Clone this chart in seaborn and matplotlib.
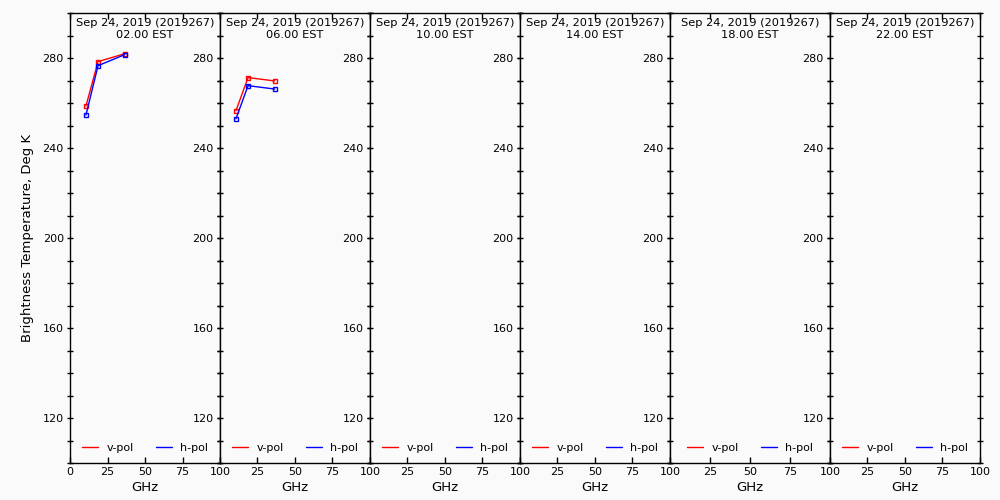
import pandas as pd
import matplotlib.pyplot as plt
from matplotlib.lines import Line2D
from matplotlib.ticker import MultipleLocator
import seaborn as sns

# Brightness temperatures per observation time (empty panels have no data)
times = ["02.00 EST", "06.00 EST", "10.00 EST", "14.00 EST", "18.00 EST", "22.00 EST"]
freqs = [10.65, 18.7, 36.5]
vpol = {
    "02.00 EST": [258.7, 278.4, 281.9],
    "06.00 EST": [256.6, 271.3, 269.8],
}
hpol = {
    "02.00 EST": [254.7, 276.6, 281.5],
    "06.00 EST": [253.0, 267.7, 266.2],
}
date_label = "Sep 24, 2019 (2019267)"
x_ticks = [0, 25, 50, 75, 100]
y_ticks = [120, 160, 200, 240, 280]

rows = []
for t in times:
    for pol, src in (("v-pol", vpol), ("h-pol", hpol)):
        if t in src:
            for f, v in zip(freqs, src[t]):
                rows.append({"time": t, "GHz": f, "pol": pol, "Tb": v})
df = pd.DataFrame(rows)

sns.set_style("ticks")
plt.rcParams["font.family"] = ["DejaVu Sans"]
plt.rcParams["text.color"] = "black"
plt.rcParams["axes.labelcolor"] = "black"
plt.rcParams["xtick.color"] = "black"
plt.rcParams["ytick.color"] = "black"
bg = "#fafafa"
colors = {"v-pol": "red", "h-pol": "blue"}

fig, axes = plt.subplots(1, 6, figsize=(10, 5), dpi=100, sharey=True,
                         gridspec_kw={"width_ratios": [150, 150, 150, 150, 160, 150]})
fig.patch.set_facecolor(bg)
fig.subplots_adjust(left=0.07, right=0.98, bottom=0.074, top=0.974, wspace=0)

for i, (ax, t) in enumerate(zip(axes, times)):
    ax.set_facecolor(bg)
    sub = df[df["time"] == t]
    for pol in ["v-pol", "h-pol"]:
        d = sub[sub["pol"] == pol]
        if len(d):
            sns.lineplot(data=d, x="GHz", y="Tb", ax=ax, color=colors[pol],
                         marker="s", markersize=3.5, mfc="none", mec=colors[pol],
                         mew=1, lw=1, sort=False)
    ax.set_xlim(0, 100)
    ax.set_ylim(100, 300)
    ax.set_xticks(x_ticks)
    ax.set_xticklabels([str(x) if (i == 0 or x > 0) else "" for x in x_ticks], fontsize=8)
    ax.set_yticks(y_ticks)
    ax.yaxis.set_minor_locator(MultipleLocator(10))
    ax.tick_params(axis="y", which="both", left=True, right=True, labelleft=True,
                   direction="inout", labelsize=8, pad=2, width=1)
    ax.tick_params(axis="y", which="major", length=5)
    ax.tick_params(axis="y", which="minor", length=4)
    ax.tick_params(axis="x", which="both", top=True, bottom=True, direction="in",
                   length=4, width=1, labelsize=8, pad=3)
    for s in ax.spines.values():
        s.set_visible(True)
        s.set_color("black")
        s.set_linewidth(1)
    ax.set_xlabel("GHz", fontsize=9.5, labelpad=3)
    ax.set_ylabel("Brightness Temperature, Deg K" if i == 0 else "", fontsize=9.5, labelpad=6)
    ax.text(0.5, 0.988, date_label + "\n" + t, transform=ax.transAxes,
            ha="center", va="top", fontsize=8.2, linespacing=1.25)
    handles = [Line2D([0], [0], color="red", lw=1), Line2D([0], [0], color="blue", lw=1)]
    ax.legend(handles, ["v-pol", "h-pol"], loc="lower center", ncol=2, frameon=False,
              fontsize=8, handlelength=1.5, columnspacing=2.0, handletextpad=0.7,
              bbox_to_anchor=(0.5, 0.0))

fig.savefig("out.png", dpi=100, facecolor=bg)
